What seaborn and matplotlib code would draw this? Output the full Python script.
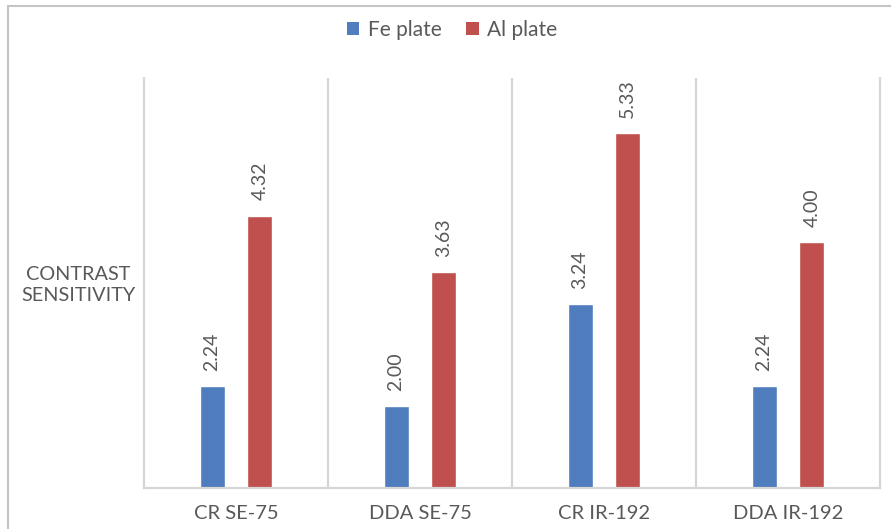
import matplotlib
matplotlib.use("Agg")
import matplotlib.pyplot as plt
from matplotlib.lines import Line2D
from matplotlib.patches import Patch
import pandas as pd
import seaborn as sns

# Chart data
setups = ["CR SE-75", "DDA SE-75", "CR IR-192", "DDA IR-192"]
fe_plate = [2.24, 2.00, 3.24, 2.24]
al_plate = [4.32, 3.63, 5.33, 4.00]
series_names = ["Fe plate", "Al plate"]

BLUE = "#4F7DBD"
RED = "#C0504D"
TEXT = "#595959"
GRID = "#D6D6D6"

df = pd.DataFrame({
    "setup": setups * 2,
    "plate": [series_names[0]] * len(setups) + [series_names[1]] * len(setups),
    "value": fe_plate + al_plate,
})

sns.set_theme(style="white")
plt.rcParams["font.family"] = ["Lato", "DejaVu Sans"]

fig = plt.figure(figsize=(8.91, 5.29), dpi=100)
ax = fig.add_axes([144 / 891, 41 / 529, (880 - 144) / 891, (488 - 78) / 529])

sns.barplot(data=df, x="setup", y="value", hue="plate", order=setups,
            hue_order=series_names, palette=[BLUE, RED], saturation=1,
            width=0.52, gap=0.48, legend=False, ax=ax)

ax.set_xlim(-0.5, len(setups) - 0.5)
ax.set_ylim(1, 6)
ax.set_yticks([])
ax.set_xlabel("")
ax.set_ylabel("")

# Category separators
for b in range(1, len(setups)):
    ax.axvline(b - 0.5, color=GRID, lw=1.6, zorder=0)
for side in ["left", "right", "bottom"]:
    ax.spines[side].set_color(GRID)
    ax.spines[side].set_linewidth(1.6)
ax.spines["top"].set_visible(False)

ax.tick_params(axis="x", length=0, pad=12, labelsize=14.5, labelcolor=TEXT)

for container in ax.containers:
    ax.bar_label(container, fmt="%.2f", rotation=90, padding=11,
                 color=TEXT, fontsize=14)

fig.text(78 / 891, 1 - 285 / 529, "CONTRAST\nSENSITIVITY", ha="center",
         va="center", multialignment="center", fontsize=14.3, color=TEXT,
         linespacing=1.25)

handles = [Patch(facecolor=BLUE, edgecolor="none"),
           Patch(facecolor=RED, edgecolor="none")]
fig.legend(handles, series_names, loc="center",
           bbox_to_anchor=(452 / 891, 1 - 30 / 529), ncol=2, frameon=False,
           fontsize=15, labelcolor=TEXT, handlelength=0.6,
           handleheight=0.6, handletextpad=0.4, columnspacing=1.2)

# Chart-area border
fig.add_artist(Line2D([8 / 891, 8 / 891], [0, 1 - 6 / 529],
                      transform=fig.transFigure, color="#C4C4C4", lw=1.5))
fig.add_artist(Line2D([8 / 891, 1], [1 - 6 / 529, 1 - 6 / 529],
                      transform=fig.transFigure, color="#C4C4C4", lw=1.5))

fig.savefig("out.png", dpi=100, facecolor="white")
